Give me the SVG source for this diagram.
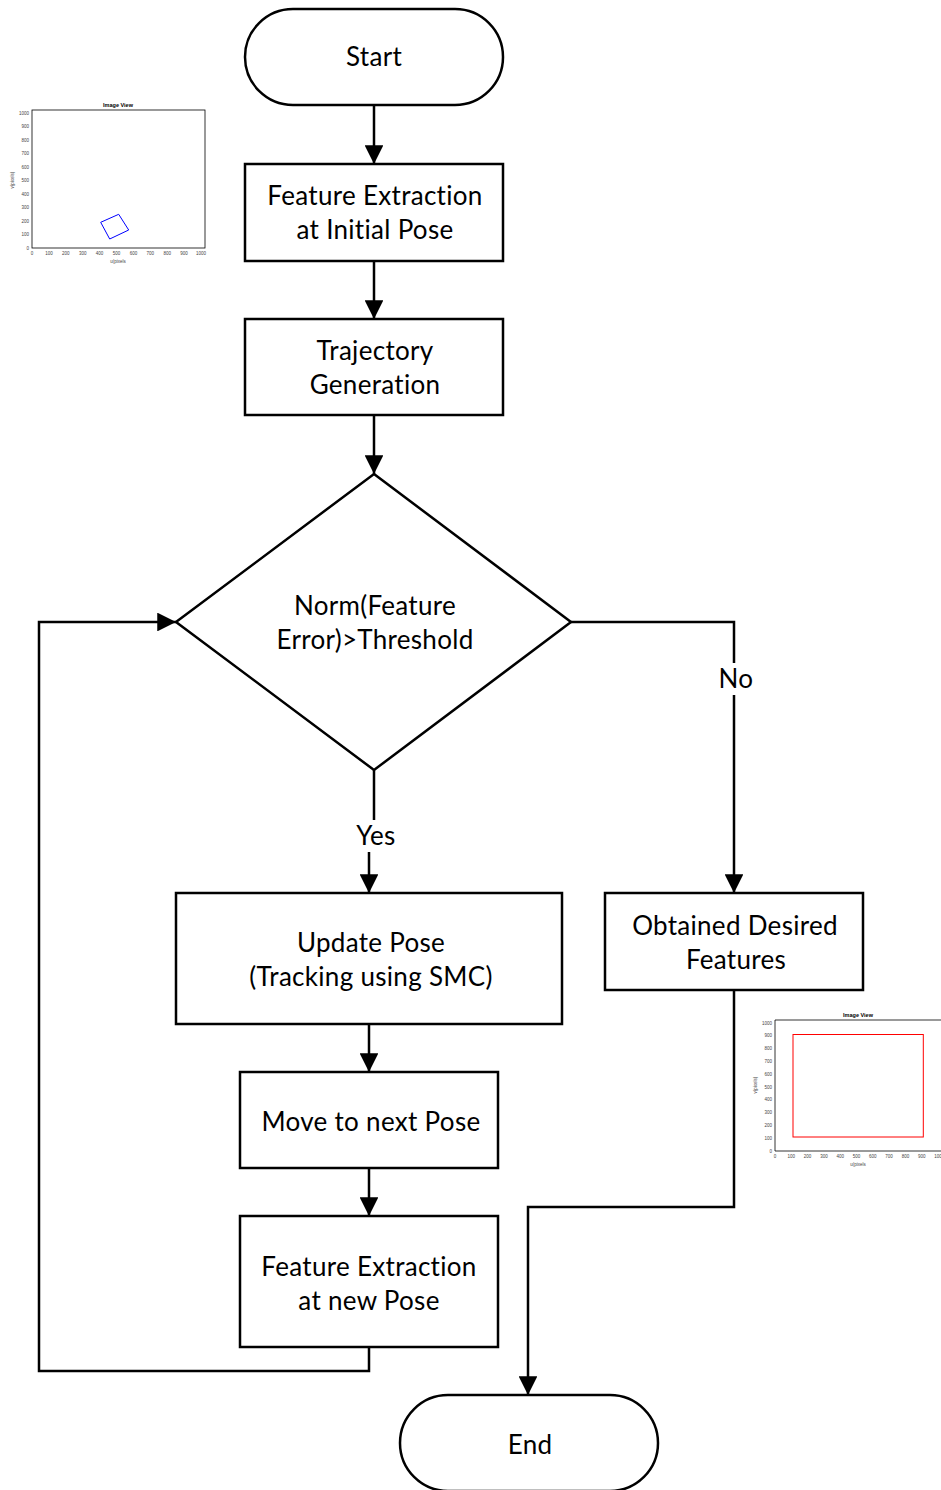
<svg xmlns="http://www.w3.org/2000/svg" width="941" height="1490" viewBox="0 0 941 1490">
<style>
.n{fill:#fff;stroke:#000;stroke-width:2.5}
.t{font-family:Lato,"Liberation Sans",sans-serif;font-size:26px;letter-spacing:0.3px;fill:#000;text-anchor:middle}
.c{fill:none;stroke:#000;stroke-width:2.5}
.lb{fill:#fff;stroke:none}
.ax{fill:none;stroke:#000;stroke-width:0.8}
.tk{font-family:"Liberation Sans",Arial,sans-serif;font-size:4.5px;fill:#444}
.tl{font-family:"Liberation Sans",Arial,sans-serif;font-size:5.5px;font-weight:bold;fill:#000;text-anchor:middle}
</style>
<defs>
<marker id="ah" viewBox="0 0 10 10" refX="10" refY="5" markerWidth="7.5" markerHeight="7.5" markerUnits="strokeWidth" orient="auto">
<path d="M0,0 L10,5 L0,10 z" fill="#000"/>
</marker>
</defs>
<rect width="941" height="1490" fill="#fff"/>

<g id="plot1">
<text class="tl" x="118" y="107">Image View</text>
<rect class="ax" x="32" y="110" width="173" height="138"/>
<g class="tk" text-anchor="end">
<text x="29" y="249.5">0</text><text x="29" y="236">100</text><text x="29" y="222.5">200</text><text x="29" y="209">300</text><text x="29" y="195.5">400</text><text x="29" y="182">500</text><text x="29" y="168.5">600</text><text x="29" y="155">700</text><text x="29" y="141.5">800</text><text x="29" y="128">900</text><text x="29" y="114.5">1000</text>
</g>
<g class="tk" text-anchor="middle">
<text x="32" y="255">0</text><text x="48.9" y="255">100</text><text x="65.8" y="255">200</text><text x="82.7" y="255">300</text><text x="99.6" y="255">400</text><text x="116.5" y="255">500</text><text x="133.4" y="255">600</text><text x="150.3" y="255">700</text><text x="167.2" y="255">800</text><text x="184.1" y="255">900</text><text x="201" y="255">1000</text>
<text x="118" y="263">u(pixels</text>
<text x="14" y="180" transform="rotate(-90 14 180)">v(pixels)</text>
</g>
<path d="M100.7,222.3 L118.7,214.3 L128.7,230 L109.7,239 Z" fill="none" stroke="#0000ff" stroke-width="1"/>
</g>

<g id="plot2">
<text class="tl" x="858" y="1017">Image View</text>
<path class="ax" d="M945,1020 L775,1020 L775,1151 L945,1151"/>
<g class="tk" text-anchor="end">
<text x="772" y="1152.5">0</text><text x="772" y="1139.7">100</text><text x="772" y="1126.9">200</text><text x="772" y="1114.1">300</text><text x="772" y="1101.3">400</text><text x="772" y="1088.5">500</text><text x="772" y="1075.7">600</text><text x="772" y="1062.9">700</text><text x="772" y="1050.1">800</text><text x="772" y="1037.3">900</text><text x="772" y="1024.5">1000</text>
</g>
<g class="tk" text-anchor="middle">
<text x="775" y="1158">0</text><text x="791.3" y="1158">100</text><text x="807.6" y="1158">200</text><text x="823.9" y="1158">300</text><text x="840.2" y="1158">400</text><text x="856.5" y="1158">500</text><text x="872.8" y="1158">600</text><text x="889.1" y="1158">700</text><text x="905.4" y="1158">800</text><text x="921.7" y="1158">900</text><text x="938" y="1158">100</text>
<text x="858" y="1166">u(pixels</text>
<text x="757" y="1085" transform="rotate(-90 757 1085)">v(pixels)</text>
</g>
<rect x="793" y="1034.5" width="130.3" height="102.5" fill="none" stroke="#ff0000" stroke-width="1"/>
</g>

<g id="connectors">
<path class="c" d="M374,105 V164" marker-end="url(#ah)"/>
<path class="c" d="M374,261 V319" marker-end="url(#ah)"/>
<path class="c" d="M374,415 V474" marker-end="url(#ah)"/>
<path class="c" d="M374,770 V835 H369 V893" marker-end="url(#ah)"/>
<rect class="lb" x="350" y="820" width="50" height="32"/>
<text class="t" x="376" y="845">Yes</text>
<path class="c" d="M571,622 H734 V893" marker-end="url(#ah)"/>
<rect class="lb" x="714" y="663" width="44" height="32"/>
<text class="t" x="736" y="688">No</text>
<path class="c" d="M369,1024 V1072" marker-end="url(#ah)"/>
<path class="c" d="M369,1168 V1216" marker-end="url(#ah)"/>
<path class="c" d="M369,1347 V1371 H39 V622 H176" marker-end="url(#ah)"/>
<path class="c" d="M734,990 V1207 H528 V1395" marker-end="url(#ah)"/>
</g>

<g id="start">
<rect class="n" x="245" y="9" width="258" height="96" rx="48" ry="48"/>
<text class="t" x="374" y="66">Start</text>
</g>
<g id="feat_init">
<rect class="n" x="245" y="164" width="258" height="97"/>
<text class="t" x="375" y="205">Feature Extraction</text>
<text class="t" x="375" y="239">at Initial Pose</text>
</g>
<g id="traj">
<rect class="n" x="245" y="319" width="258" height="96"/>
<text class="t" x="375" y="360">Trajectory</text>
<text class="t" x="375" y="394">Generation</text>
</g>
<g id="decision">
<path class="n" d="M374,474 L571,622 L374,770 L176,622 Z"/>
<text class="t" x="375" y="615">Norm(Feature</text>
<text class="t" x="375" y="649">Error)&gt;Threshold</text>
</g>
<g id="update">
<rect class="n" x="176" y="893" width="386" height="131"/>
<text class="t" x="371" y="952">Update Pose</text>
<text class="t" x="371" y="986">(Tracking using SMC)</text>
</g>
<g id="obtained">
<rect class="n" x="605" y="893" width="258" height="97"/>
<text class="t" x="735" y="935">Obtained Desired</text>
<text class="t" x="736" y="969">Features</text>
</g>
<g id="move">
<rect class="n" x="240" y="1072" width="258" height="96"/>
<text class="t" x="371" y="1131">Move to next Pose</text>
</g>
<g id="feat_new">
<rect class="n" x="240" y="1216" width="258" height="131"/>
<text class="t" x="369" y="1276">Feature Extraction</text>
<text class="t" x="369" y="1310">at new Pose</text>
</g>
<g id="end">
<rect class="n" x="400" y="1395" width="258" height="96" rx="48" ry="48"/>
<text class="t" x="530" y="1454">End</text>
</g>
</svg>
